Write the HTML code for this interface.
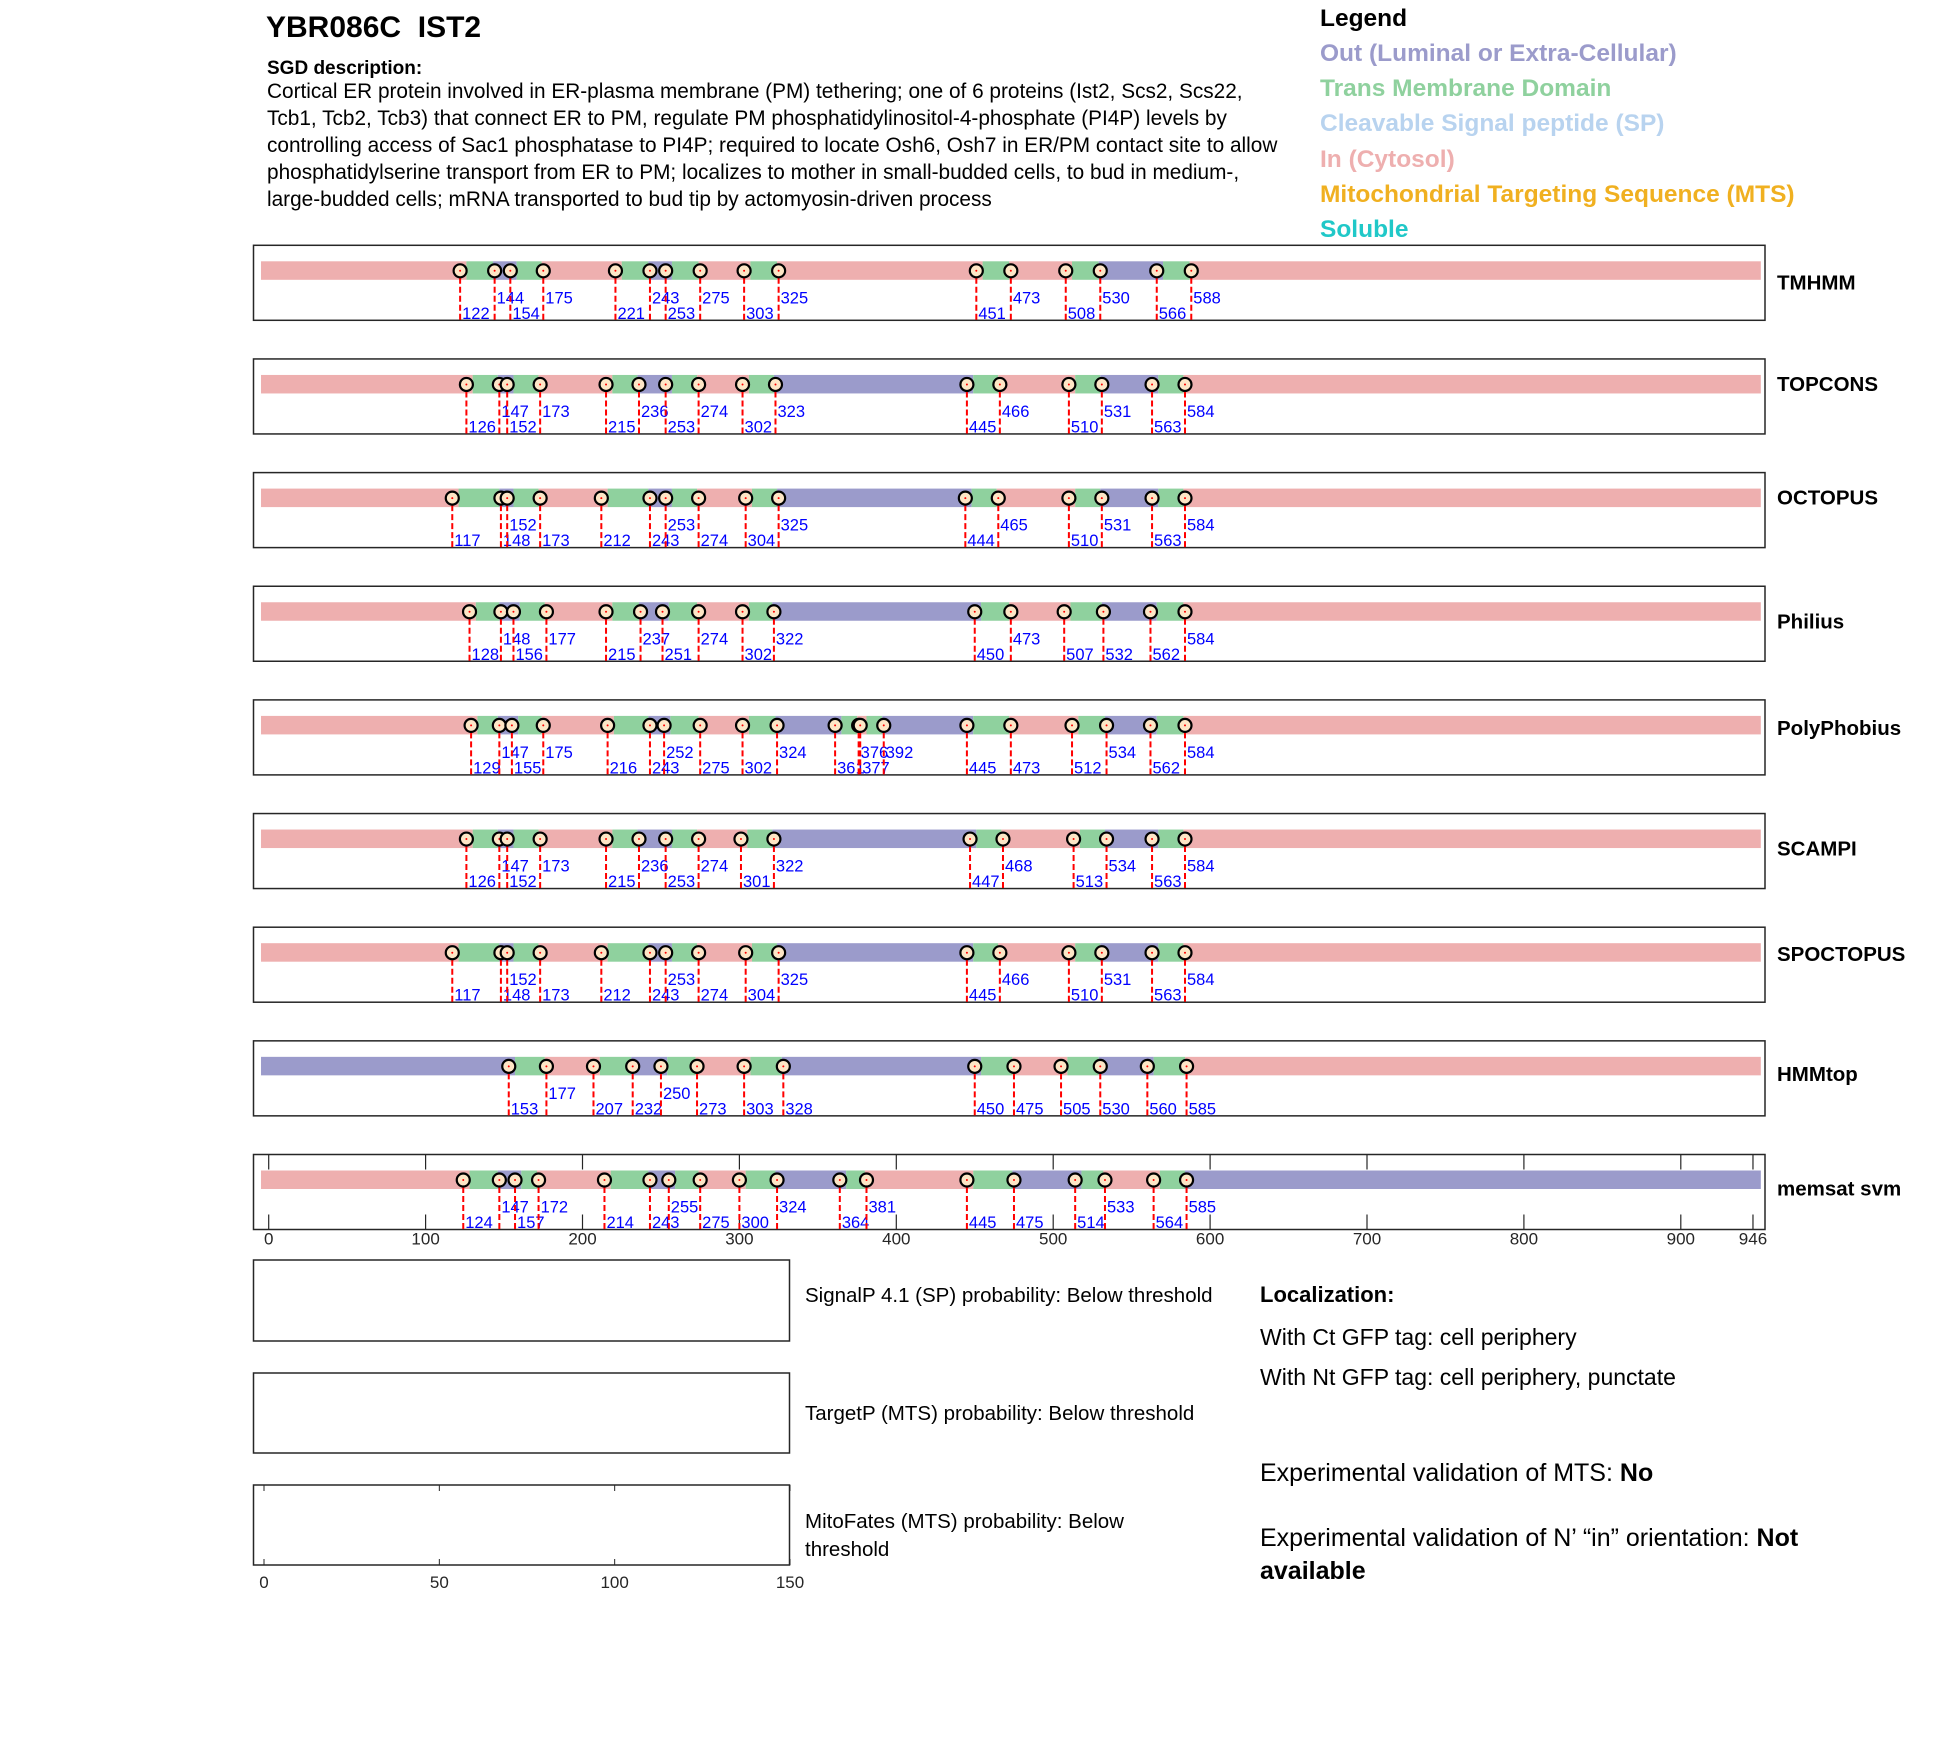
<!DOCTYPE html>
<html><head><meta charset="utf-8"><style>
html,body{margin:0;padding:0;background:#fff;}
body{width:1950px;height:1761px;overflow:hidden;position:relative;font-family:"Liberation Sans",Arial,sans-serif;}
.t{position:absolute;white-space:nowrap;color:#000;}
</style></head><body>
<div class="t" style="left:266px;top:11px;font-size:30px;font-weight:bold;">YBR086C&nbsp; IST2</div>
<div class="t" style="left:267px;top:58px;font-size:19px;font-weight:bold;">SGD description:</div>
<div class="t" style="left:267px;top:78px;font-size:20.8px;line-height:27px;">Cortical ER protein involved in ER-plasma membrane (PM) tethering; one of 6 proteins (Ist2, Scs2, Scs22,<br>Tcb1, Tcb2, Tcb3) that connect ER to PM, regulate PM phosphatidylinositol-4-phosphate (PI4P) levels by<br>controlling access of Sac1 phosphatase to PI4P; required to locate Osh6, Osh7 in ER/PM contact site to allow<br>phosphatidylserine transport from ER to PM; localizes to mother in small-budded cells, to bud in medium-,<br>large-budded cells; mRNA transported to bud tip by actomyosin-driven process</div>
<div class="t" style="left:1320px;top:5px;font-size:24.5px;font-weight:bold;">Legend</div>
<div class="t" style="left:1320px;top:40px;font-size:24.5px;font-weight:bold;color:#9b9bcb;">Out (Luminal or Extra-Cellular)</div>
<div class="t" style="left:1320px;top:75px;font-size:24.5px;font-weight:bold;color:#8fd19e;">Trans Membrane Domain</div>
<div class="t" style="left:1320px;top:110px;font-size:24.5px;font-weight:bold;color:#b8d3ef;">Cleavable Signal peptide (SP)</div>
<div class="t" style="left:1320px;top:146px;font-size:24.5px;font-weight:bold;color:#eeafaf;">In (Cytosol)</div>
<div class="t" style="left:1320px;top:181px;font-size:24.5px;font-weight:bold;color:#f0b020;">Mitochondrial Targeting Sequence (MTS)</div>
<div class="t" style="left:1320px;top:216px;font-size:24.5px;font-weight:bold;color:#20c8c8;">Soluble</div>

<svg id="s" width="1950" height="1761" style="position:absolute;left:0;top:0" xmlns="http://www.w3.org/2000/svg"></svg>

<div class="t" style="left:805px;top:1284px;font-size:20.5px;">SignalP 4.1 (SP) probability: Below threshold</div>
<div class="t" style="left:805px;top:1402px;font-size:20.5px;">TargetP (MTS) probability: Below threshold</div>
<div class="t" style="left:805px;top:1508px;font-size:20.5px;line-height:28px;">MitoFates (MTS) probability: Below<br>threshold</div>
<div class="t" style="left:1260px;top:1282px;font-size:22px;font-weight:bold;">Localization:</div>
<div class="t" style="left:1260px;top:1324px;font-size:23px;">With Ct GFP tag: cell periphery</div>
<div class="t" style="left:1260px;top:1364px;font-size:23px;">With Nt GFP tag: cell periphery, punctate</div>
<div class="t" style="left:1260px;top:1459px;font-size:25px;">Experimental validation of MTS: <b>No</b></div>
<div class="t" style="left:1260px;top:1522px;font-size:25px;line-height:33px;">Experimental validation of N’ “in” orientation: <b>Not</b><br><b>available</b></div>

<script>
var S=document.getElementById('s');var h='';
function X(r){return 268.7+1.569*r;}
var P='#eeafaf',G='#8fd19e',B='#9b9bcb';
var D=[
["TMHMM",37,[[122,144],[154,175],[221,243],[253,275],[303,325],[451,473],[508,530],[566,588]],[P,B,P,B,P,P,P,B,P],"LULULULULULULULU"],
["TOPCONS",25,[[126,147],[152,173],[215,236],[253,274],[302,323],[445,466],[510,531],[563,584]],[P,B,P,B,P,B,P,B,P],"LULULULULULULULU"],
["OCTOPUS",25,[[117,148],[152,173],[212,243],[253,274],[304,325],[444,465],[510,531],[563,584]],[P,B,P,B,P,B,P,B,P],"LLULLLULLULULULU"],
["Philius",35,[[128,148],[156,177],[215,237],[251,274],[302,322],[450,473],[507,532],[562,584]],[P,B,P,B,P,B,P,B,P],"LULULULULULULLLU"],
["PolyPhobius",28,[[129,147],[155,175],[216,243],[252,275],[302,324],[361,376],[377,392],[445,473],[512,534],[562,584]],[P,B,P,B,P,B,P,B,P,B,P],"LULULLULLULULULLLULU"],
["SCAMPI",35,[[126,147],[152,173],[215,236],[253,274],[301,322],[447,468],[513,534],[563,584]],[P,B,P,B,P,B,P,B,P],"LULULULULULULULU"],
["SPOCTOPUS",27,[[117,148],[152,173],[212,243],[253,274],[304,325],[445,466],[510,531],[563,584]],[P,B,P,B,P,B,P,B,P],"LLULLLULLULULULU"],
["HMMtop",33,[[153,177],[207,232],[250,273],[303,328],[450,475],[505,530],[560,585]],[B,P,B,P,B,P,B,P],"LULLULLLLLLLLL"],
["memsat svm",34,[[124,147],[157,172],[214,243],[255,275],[300,324],[364,381],[445,475],[514,533],[564,585]],[P,B,P,B,P,B,P,B,P,B],"LULULLULLULULLLULU"]
];
D.forEach(function(d,i){
 var top=245.3+113.65*i, by=top+16, bh=18.5, cy=top+25.5, bot=top+75;
 h+='<rect x="253.5" y="'+top+'" width="1511.5" height="75" fill="#fff" stroke="#262626" stroke-width="1.5"/>';
 if(i==8){[0,100,200,300,400,500,600,700,800,900,946].forEach(function(t){var x=X(t);
  h+='<line x1="'+x+'" y1="'+top+'" x2="'+x+'" y2="'+(top+15)+'" stroke="#262626" stroke-width="1.2"/>';
  h+='<line x1="'+x+'" y1="'+bot+'" x2="'+x+'" y2="'+(bot-15)+'" stroke="#262626" stroke-width="1.2"/>';
  h+='<text x="'+x+'" y="'+(bot+15)+'" font-size="17" fill="#262626" text-anchor="middle" font-family="Liberation Sans">'+t+'</text>';});}
 var tms=d[2],lc=d[3],prev=-4.9;
 var segs=[];
 tms.forEach(function(tm,k){var a=tm[0]+4,b=tm[1]-1;segs.push([prev,a,lc[k]]);segs.push([a,b,G]);prev=b;});
 segs.push([prev,951,lc[tms.length]]);
 segs.forEach(function(s){h+='<rect x="'+X(s[0])+'" y="'+by+'" width="'+Math.max(0,X(s[1])-X(s[0]))+'" height="'+bh+'" fill="'+s[2]+'"/>';});
 var pos=[];tms.forEach(function(tm){pos.push(tm[0]);pos.push(tm[1]);});
 pos.forEach(function(p,k){var x=X(p);
  h+='<line x1="'+x+'" y1="'+(cy+7)+'" x2="'+x+'" y2="'+bot+'" stroke="#ff0000" stroke-width="2" stroke-dasharray="6,3"/>';
  h+='<circle cx="'+x+'" cy="'+cy+'" r="6.5" fill="#fde6c6" stroke="#000" stroke-width="2.2"/>';
  h+='<circle cx="'+x+'" cy="'+cy+'" r="1" fill="#ff0000"/>';
  var row=d[4][k]=='U'?top+58:top+73.5;
  h+='<text x="'+(x+2)+'" y="'+row+'" font-size="16.5" fill="#0000ff" font-family="Liberation Sans">'+p+'</text>';});
 h+='<text x="1777" y="'+(top+d[1]+7)+'" font-size="20.5" font-weight="bold" fill="#000" font-family="Liberation Sans">'+d[0]+'</text>';
});
[[1260,1341],[1373,1453],[1485,1565]].forEach(function(b){h+='<rect x="253.5" y="'+b[0]+'" width="536" height="'+(b[1]-b[0])+'" fill="#fff" stroke="#262626" stroke-width="1.5"/>';});
[0,50,100,150].forEach(function(t){var x=264+t*(790-264)/150;
 h+='<line x1="'+x+'" y1="1485" x2="'+x+'" y2="1491" stroke="#262626"/><line x1="'+x+'" y1="1565" x2="'+x+'" y2="1559" stroke="#262626"/>';
 h+='<text x="'+x+'" y="1588" font-size="17" fill="#262626" text-anchor="middle" font-family="Liberation Sans">'+t+'</text>';});
S.innerHTML=h;
</script>
</body></html>
